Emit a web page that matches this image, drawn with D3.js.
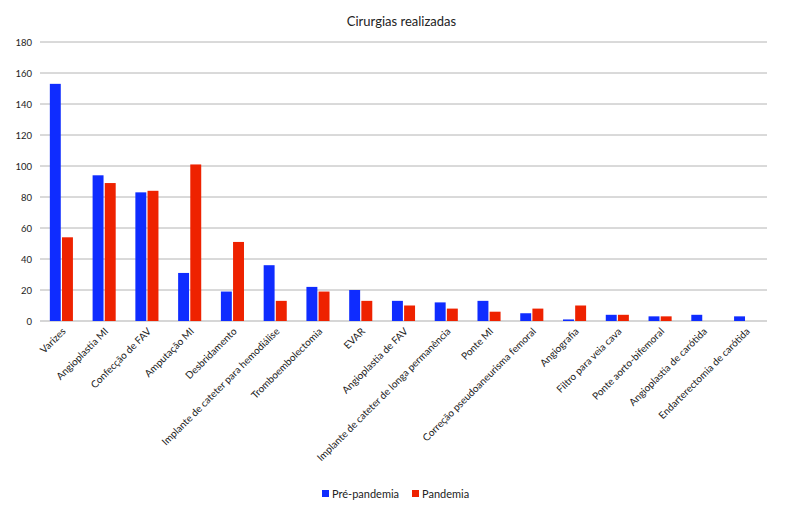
<!DOCTYPE html>
<html>
<head>
<meta charset="utf-8">
<script src="https://cdn.jsdelivr.net/npm/d3@7"></script>
<style>
  body { margin: 0; background: #fff; }
  text { font-family: Lato, "Open Sans", sans-serif; fill: #222; }
</style>
</head>
<body>
<div id="chart"></div>
<script>
var width = 789;
var height = 510;

// categories and values
var categories = ["Varizes", "Angioplastia MI", "Confecção de FAV", "Amputação MI", "Desbridamento",
    "Implante de cateter para hemodiálise", "Tromboembolectomia", "EVAR", "Angioplastia de FAV",
    "Implante de cateter de longa permanência", "Ponte MI", "Correção pseudoaneurisma femoral",
    "Angiografia", "Filtro para veia cava", "Ponte aorto-bifemoral", "Angioplastia de carótida",
    "Endarterectomia de carótida"];
var prePandemia = [153, 94, 83, 31, 19, 36, 22, 20, 13, 12, 13, 5, 1, 4, 3, 4, 3];
var pandemia = [54, 89, 84, 101, 51, 13, 19, 13, 10, 8, 6, 8, 10, 4, 3, 0, 0];
var seriesNames = ["Pré-pandemia", "Pandemia"];
var seriesColors = ["#0f2cff", "#ee2200"];
var yTicks = [0, 20, 40, 60, 80, 100, 120, 140, 160, 180];

var margin = { left: 40, right: 22, top: 42, bottom: 189 };

var svg = d3.select("#chart").append("svg")
    .attr("width", width)
    .attr("height", height);

var x = d3.scaleBand()
    .domain(categories)
    .range([margin.left, width - margin.right])
    .paddingInner(0.46)
    .paddingOuter(0.23);

var x1 = d3.scaleBand()
    .domain([0, 1])
    .range([0, x.bandwidth()])
    .paddingInner(0.1);

var y = d3.scaleLinear()
    .domain([0, 180])
    .range([height - margin.bottom, margin.top]);

// gridlines
svg.append("g")
    .selectAll("line")
    .data(yTicks)
    .enter()
    .append("line")
    .attr("x1", margin.left)
    .attr("x2", width - margin.right)
    .attr("y1", function(d) { return y(d); })
    .attr("y2", function(d) { return y(d); })
    .attr("stroke", function(d) { return d == 0 ? "#c8c8c8" : "#b4b4b4"; })
    .attr("stroke-width", function(d) { return d == 0 ? 1.6 : 1; });

// y axis labels
var yAxis = d3.axisLeft(y).tickValues(yTicks).tickSize(0).tickPadding(8);
svg.append("g")
    .attr("transform", "translate(" + margin.left + ",0)")
    .call(yAxis)
    .call(function(g) { g.select(".domain").remove(); })
    .selectAll("text")
    .style("font-family", "Lato, 'Open Sans', sans-serif")
    .style("font-size", "9.5px")
    .attr("fill", "#222");

// bars
var groups = svg.append("g")
    .selectAll("g")
    .data(categories)
    .enter()
    .append("g")
    .attr("transform", function(d) { return "translate(" + x(d) + ",0)"; });

groups.selectAll("rect")
    .data(function(d, i) { return [prePandemia[i], pandemia[i]]; })
    .enter()
    .append("rect")
    .attr("x", function(d, j) { return x1(j); })
    .attr("width", x1.bandwidth())
    .attr("y", function(d) { return y(d); })
    .attr("height", function(d) { return y(0) - y(d); })
    .attr("fill", function(d, j) { return seriesColors[j]; });

// x axis labels
var xAxis = d3.axisBottom(x).tickSize(0).tickPadding(0);
svg.append("g")
    .attr("transform", "translate(0," + (y(0) + 6) + ")")
    .call(xAxis)
    .call(function(g) { g.select(".domain").remove(); })
    .selectAll("text")
    .style("font-family", "Lato, 'Open Sans', sans-serif")
    .style("font-size", "10px")
    .attr("fill", "#222")
    .attr("text-anchor", "end")
    .attr("dy", "0.7em")
    .attr("transform", "rotate(-45)");

// title
svg.append("text")
    .attr("x", width / 2 + 7)
    .attr("y", 26)
    .attr("text-anchor", "middle")
    .style("font-size", "13px")
    .text("Cirurgias realizadas");

// legend
var legendX = [322, 412];
var legend = svg.append("g")
    .selectAll("g")
    .data(seriesNames)
    .enter()
    .append("g")
    .attr("transform", function(d, i) { return "translate(" + legendX[i] + ",494)"; });

legend.append("rect")
    .attr("x", 0)
    .attr("y", -4)
    .attr("width", 7)
    .attr("height", 7)
    .attr("fill", function(d, i) { return seriesColors[i]; });

legend.append("text")
    .attr("x", 10)
    .attr("y", 4)
    .style("font-size", "11px")
    .text(function(d) { return d; });
</script>
</body>
</html>
